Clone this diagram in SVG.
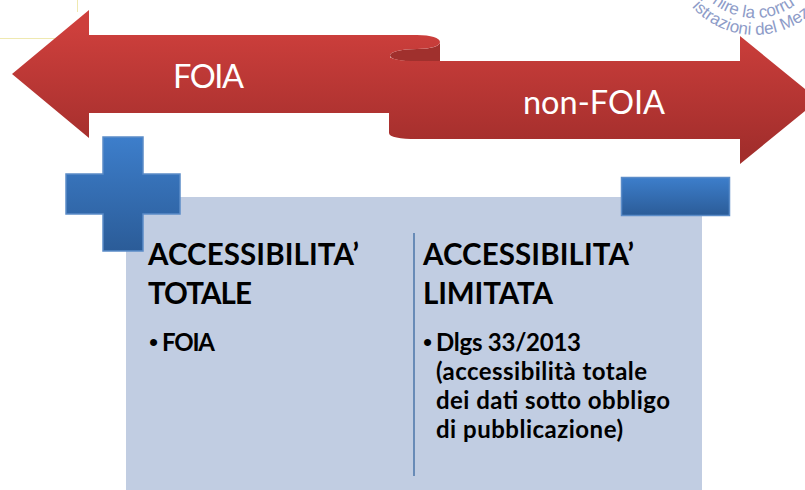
<svg xmlns="http://www.w3.org/2000/svg" width="805" height="490" viewBox="0 0 805 490">
<style>
.t{font-family:"Lato","Liberation Sans",sans-serif;}
.w{fill:#fff;font-size:32.5px;}
.h{fill:#000;font-size:29.5px;font-weight:700;}
.b{fill:#000;font-size:24px;font-weight:700;}
.d{font-family:"Liberation Sans",sans-serif;font-size:26px;font-weight:400;}
.s{font-family:"Liberation Sans",sans-serif;font-size:17px;fill:#8e9cc8;}
.blue{fill:url(#bl);stroke:#5b8cc8;stroke-width:1.5;}
</style>
<defs>
<linearGradient id="r1" gradientUnits="userSpaceOnUse" x1="0" y1="28" x2="0" y2="150"><stop offset="0" stop-color="#cd3f3c"/><stop offset="1" stop-color="#a32e2c"/></linearGradient>
<linearGradient id="bl" x1="0" y1="0" x2="0" y2="1"><stop offset="0" stop-color="#3d7ecb"/><stop offset="1" stop-color="#2b5c98"/></linearGradient>
<path id="a1" d="M 687 -50 A 68 68 0 0 0 823 -50" fill="none"/>
<path id="a2" d="M 670 -50 A 85 85 0 0 0 840 -50" fill="none"/>
</defs>
<g id="guides" fill="none" stroke="#efe9b0" stroke-width="1"><path d="M0 38.500H55M77.500 0V12"/></g>
<g id="seal">
<text class="s"><textPath href="#a1" startOffset="60">nire la corru</textPath></text>
<text class="s"><textPath href="#a2" startOffset="62">istrazioni del Mezz</textPath></text>
</g>
<g id="panel"><rect x="126" y="197" width="576" height="293" fill="#c1cde2"/></g>
<g id="arrows">
<path d="M417 49C400 49 390 52 390 55.500C390 59 400 61.500 417 61.500H440V42C440 46 432 49 417 49Z" fill="#a0302d"/>
<path id="foia-arrow" d="M12 74L89 10V35H417C431 35 440 38 440 42C440 46 431 49 417 49C400 49 390 52 390 55.500V113H89V138Z" fill="url(#r1)"/>
<path id="nonfoia-arrow" d="M389 55.500C389 59 400 61 417 61H740V36L805 89V111L740 164V139H417C400 139 389 137 389 133Z" fill="url(#r1)"/>
</g>
<g id="foia-label"><text class="t w" x="173" y="88" textLength="71">FOIA</text></g>
<g id="nonfoia-label"><text class="t w" x="523" y="114" textLength="142">non-FOIA</text></g>
<g id="plus"><path class="blue" d="M103 137H143V174H180V214H143V251H103V214H66V174H103Z"/></g>
<g id="minus"><rect class="blue" x="621.500" y="177.500" width="108" height="38"/></g>
<g id="divider"><path d="M414 233V476" stroke="#4a74a8" stroke-width="1.500" fill="none"/></g>
<g id="col-left">
<text class="t h" x="148" y="265" textLength="211">ACCESSIBILITA’</text>
<text class="t h" x="148" y="304" textLength="104">TOTALE</text>
<text class="t b" x="149" y="351"><tspan class="d">•</tspan><tspan x="162" textLength="53">FOIA</tspan></text>
</g>
<g id="col-right">
<text class="t h" x="423" y="265" textLength="211">ACCESSIBILITA’</text>
<text class="t h" x="423" y="304" textLength="130">LIMITATA</text>
<text class="t b" x="423" y="351"><tspan class="d">•</tspan><tspan x="436" textLength="145">Dlgs 33/2013</tspan></text>
<text class="t b" x="436" y="380" textLength="211">(accessibilità totale</text>
<text class="t b" x="436" y="409" textLength="234">dei dati sotto obbligo</text>
<text class="t b" x="436" y="438" textLength="187">di pubblicazione)</text>
</g>
</svg>
